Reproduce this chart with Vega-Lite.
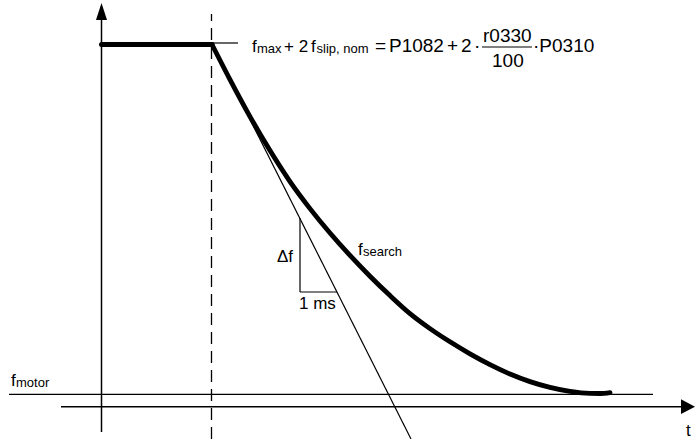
{
  "$schema": "https://vega.github.io/schema/vega-lite/v6.json",
  "width": 695,
  "height": 439,
  "autosize": {"type": "none"},
  "padding": 0,
  "background": "white",
  "config": {"view": {"stroke": null}, "text": {"font": "Liberation Sans", "color": "black"}},
  "datasets": {
    "axes": [
      {"x": 101.5, "y": 7, "x2": 101.5, "y2": 422},
      {"x": 61, "y": 32.3, "x2": 684, "y2": 32.3}
    ],
    "thin": [
      {"x": 9, "y": 44.7, "x2": 653, "y2": 44.7},
      {"x": 212, "y": 396, "x2": 238, "y2": 396},
      {"x": 212, "y": 395, "x2": 411, "y2": 0},
      {"x": 300, "y": 221, "x2": 300, "y2": 147},
      {"x": 300, "y": 147, "x2": 337, "y2": 147},
      {"x": 482, "y": 392, "x2": 532, "y2": 392}
    ],
    "dashed": [{"x": 211.5, "y": 0, "x2": 211.5, "y2": 425}],
    "flat": [{"x": 101.5, "y": 394.5, "x2": 212, "y2": 394.5}],
    "curve": [
      {"x": 212, "y": 394.5}, {"x": 230, "y": 359.4}, {"x": 250, "y": 322.4}, {"x": 270, "y": 288.4},
      {"x": 290, "y": 257.4}, {"x": 310, "y": 230.4}, {"x": 330, "y": 206.0}, {"x": 350, "y": 183.6},
      {"x": 370, "y": 162.8}, {"x": 390, "y": 143.4}, {"x": 410, "y": 125.4}, {"x": 430, "y": 110.4},
      {"x": 450, "y": 97.2}, {"x": 470, "y": 85.2}, {"x": 490, "y": 74.4}, {"x": 510, "y": 65.0},
      {"x": 530, "y": 57.4}, {"x": 550, "y": 51.6}, {"x": 570, "y": 47.6}, {"x": 590, "y": 45.6},
      {"x": 600, "y": 45.5}, {"x": 610, "y": 46.4}
    ],
    "arrowUp": [{"x": 101.5, "y": 427.5}],
    "arrowRight": [{"x": 688, "y": 32.3}],
    "mainText": [
      {"x": 252, "y": 387, "t": "f"},
      {"x": 284, "y": 387, "t": "+ 2"},
      {"x": 311, "y": 387, "t": "f"},
      {"x": 358, "y": 184, "t": "f"},
      {"x": 277, "y": 177, "t": "Δf"},
      {"x": 299, "y": 130, "t": "1 ms"},
      {"x": 11, "y": 53, "t": "f"},
      {"x": 686, "y": 3, "t": "t"}
    ],
    "subText": [
      {"x": 257, "y": 386, "t": "max"},
      {"x": 316.5, "y": 386, "t": "slip, nom"},
      {"x": 363, "y": 183, "t": "search"},
      {"x": 16, "y": 52, "t": "motor"}
    ],
    "formula": [
      {"x": 375, "y": 387, "t": "="},
      {"x": 389, "y": 387, "t": "P1082"},
      {"x": 447, "y": 387, "t": "+"},
      {"x": 461, "y": 387, "t": "2"},
      {"x": 474, "y": 387, "t": "·"},
      {"x": 483, "y": 397, "t": "r0330"},
      {"x": 492, "y": 372, "t": "100"},
      {"x": 533, "y": 387, "t": "·P0310"}
    ]
  },
  "encoding": {
    "x": {"field": "x", "type": "quantitative", "scale": {"domain": [0, 695], "nice": false, "zero": false}, "axis": null},
    "y": {"field": "y", "type": "quantitative", "scale": {"domain": [0, 439], "nice": false, "zero": false}, "axis": null}
  },
  "layer": [
    {"data": {"name": "axes"}, "mark": {"type": "rule", "color": "black", "strokeWidth": 1.5},
     "encoding": {"x2": {"field": "x2"}, "y2": {"field": "y2"}}},
    {"data": {"name": "thin"}, "mark": {"type": "rule", "color": "black", "strokeWidth": 1.2},
     "encoding": {"x2": {"field": "x2"}, "y2": {"field": "y2"}}},
    {"data": {"name": "dashed"}, "mark": {"type": "rule", "color": "black", "strokeWidth": 1.3, "strokeDash": [12, 7]},
     "encoding": {"x2": {"field": "x2"}, "y2": {"field": "y2"}}},
    {"data": {"name": "flat"}, "mark": {"type": "rule", "color": "black", "strokeWidth": 5, "strokeCap": "round"},
     "encoding": {"x2": {"field": "x2"}, "y2": {"field": "y2"}}},
    {"data": {"name": "curve"}, "mark": {"type": "line", "color": "black", "strokeWidth": 4.8, "interpolate": "monotone", "strokeCap": "round"},
     "encoding": {"order": {"field": "x", "type": "quantitative"}}},
    {"data": {"name": "arrowUp"}, "mark": {"type": "point", "shape": "M0,-1L0.65,1L-0.65,1Z", "filled": true, "size": 289, "color": "black", "opacity": 1, "strokeWidth": 0}},
    {"data": {"name": "arrowRight"}, "mark": {"type": "point", "shape": "M1,0L-1,-1.05L-1,1.05Z", "filled": true, "size": 196, "color": "black", "opacity": 1, "strokeWidth": 0}},
    {"data": {"name": "mainText"}, "mark": {"type": "text", "fontSize": 17, "align": "left", "baseline": "alphabetic"},
     "encoding": {"text": {"field": "t"}}},
    {"data": {"name": "subText"}, "mark": {"type": "text", "fontSize": 13, "align": "left", "baseline": "alphabetic"},
     "encoding": {"text": {"field": "t"}}},
    {"data": {"name": "formula"}, "mark": {"type": "text", "fontSize": 19, "align": "left", "baseline": "alphabetic"},
     "encoding": {"text": {"field": "t"}}}
  ]
}
